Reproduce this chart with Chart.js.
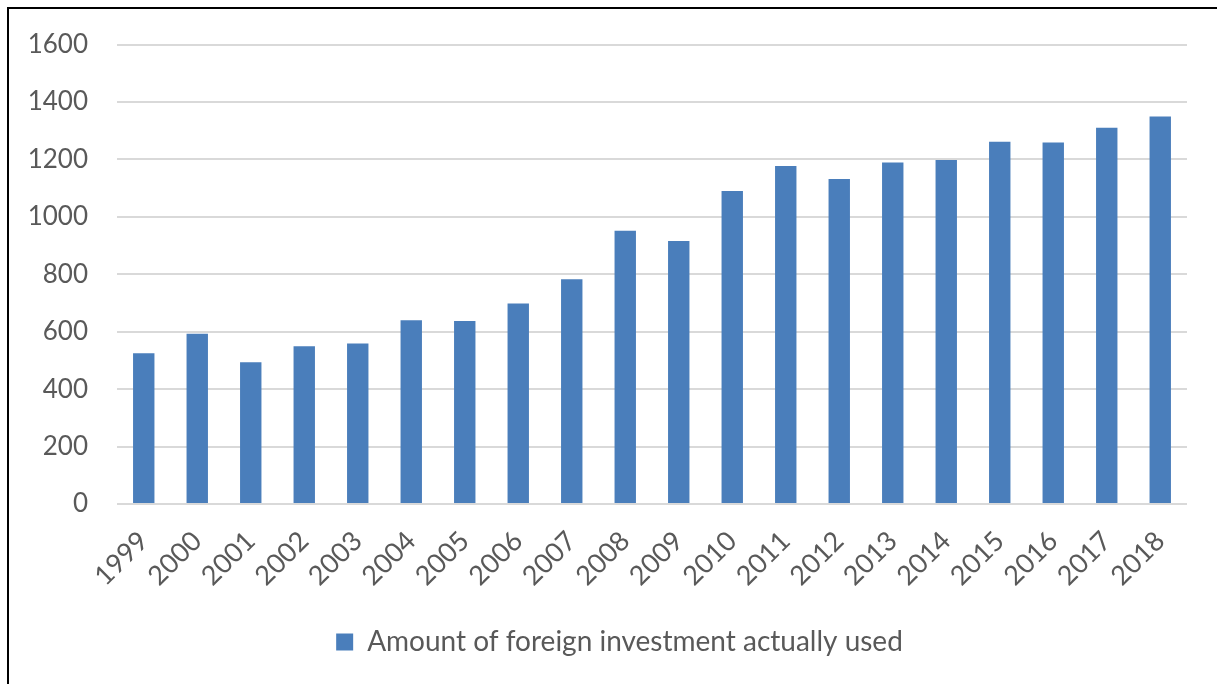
<!DOCTYPE html>
<html>
<head>
<meta charset="utf-8">
<script src="https://cdn.jsdelivr.net/npm/chart.js@4/dist/chart.umd.min.js"></script>
<style>
  html, body { margin: 0; padding: 0; background: #fff; overflow: hidden; }
  #wrap { position: relative; width: 1217px; height: 684px; }
  #frame {
    position: absolute; left: 7px; top: 7px; width: 1230px; height: 700px;
    border-left: 2px solid #000; border-top: 2px solid #000; box-sizing: border-box;
    pointer-events: none;
  }
  canvas { position: absolute; left: 0; top: 0; }
</style>
</head>
<body>
<div id="wrap">
  <canvas id="chart" width="1217" height="684"></canvas>
  <div id="frame"></div>
</div>
<script>
// yearly amounts, read per category
var years = ['1999', '2000', '2001', '2002', '2003', '2004', '2005', '2006', '2007', '2008',
             '2009', '2010', '2011', '2012', '2013', '2014', '2015', '2016', '2017', '2018'];
var amounts = [525, 593, 494, 549, 559, 640, 637, 698, 783, 952,
               916, 1090, 1177, 1132, 1189, 1198, 1262, 1259, 1310, 1350];
var seriesName = 'Amount of foreign investment actually used';
var yTicks = [0, 200, 400, 600, 800, 1000, 1200, 1400, 1600];

var textColor = '#595959';
var barColor = '#4a7ebb';
var font = 'Lato, "Open Sans", sans-serif';

// nudge the legend to the right so it sits under the middle of the frame
var legendShift = {
    id: 'legendShift',
    afterLayout: function(chart) {
        var lg = chart.legend;
        if (lg) {
            lg.left += 26;
            lg.right += 26;
        }
    }
};

var ctx = document.getElementById('chart');
var chart = new Chart(ctx, {
    type: 'bar',
    data: {
        labels: years,
        datasets: [{
            label: seriesName,
            data: amounts,
            backgroundColor: barColor,
            borderWidth: 0,
            categoryPercentage: 1,
            barPercentage: 0.4
        }]
    },
    plugins: [legendShift],
    options: {
        responsive: false,
        animation: false,
        devicePixelRatio: 1,
        layout: {
            padding: { left: 0, right: 30, top: 41, bottom: 18 }
        },
        plugins: {
            tooltip: { enabled: false },
            legend: {
                position: 'bottom',
                labels: {
                    color: textColor,
                    font: { family: font, size: 28 },
                    boxWidth: 17,
                    boxHeight: 17,
                    padding: 10
                }
            }
        },
        scales: {
            x: {
                grid: { display: false },
                border: { display: false },
                ticks: {
                    color: textColor,
                    font: { family: font, size: 27 },
                    minRotation: 45,
                    maxRotation: 45,
                    padding: 13
                },
                afterFit: function(scale) {
                    scale.height = 114;
                }
            },
            y: {
                min: 0,
                max: 1600,
                afterBuildTicks: function(scale) {
                    scale.ticks = yTicks.map(function(v) { return { value: v }; });
                },
                grid: {
                    color: '#d9d9d9',
                    lineWidth: 2,
                    drawTicks: false
                },
                border: { display: false },
                ticks: {
                    color: textColor,
                    font: { family: font, size: 26 },
                    padding: 29,
                    callback: function(value) { return String(value); }
                },
                afterFit: function(scale) {
                    scale.width = 117;
                }
            }
        }
    }
});
</script>
</body>
</html>
